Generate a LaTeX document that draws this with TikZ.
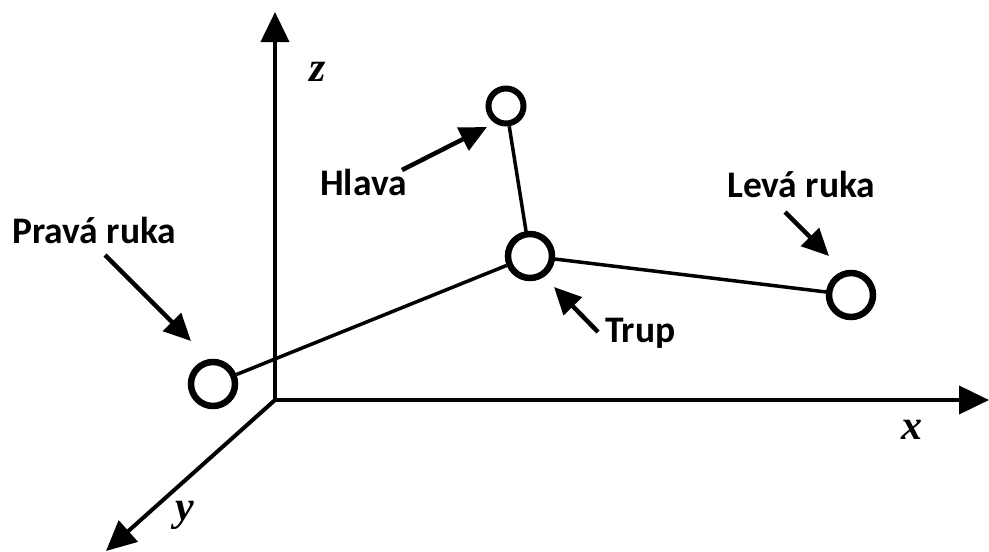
\documentclass[tikz,border=0pt]{standalone}
\usepackage{fontspec}
\setmainfont{Liberation Serif}
\newfontfamily\labelfont{Carlito}
\usetikzlibrary{arrows.meta}
\tikzset{
  axis/.style={line width=4pt, -{Triangle[length=30pt,width=28pt]}},
  pointer/.style={line width=4.5pt, -{Triangle[length=27pt,width=25pt]}},
  joint/.style={circle, draw, line width=6.5pt, inner sep=0pt, minimum size=44pt, fill=white},
  link/.style={line width=3.5pt},
  partname/.style={font=\labelfont\bfseries\fontsize{37.5}{40}\selectfont, inner sep=0pt, anchor=base west},
  axisname/.style={font=\bfseries\itshape\fontsize{42}{44}\selectfont, inner sep=0pt}
}
\begin{document}
\begin{tikzpicture}[x=1pt,y=-1pt]
\useasboundingbox (0,0) rectangle (989,552);

% axes
\coordinate (O) at (275,400);
\coordinate (zend) at (275,12);
\coordinate (xend) at (989,400);
\coordinate (yend) at (106,551);
\draw[axis] (O) -- (zend);
\draw[axis] (273,400) -- (xend);
\draw[axis] (O) -- (yend);
\node[axisname] (zl) at (318,72) {z};
\node[axisname] (xl) at (912,430) {x};
\node[axisname] (yl) at (185,515) {y};

% body joints
\node[joint] (rh) at (213,384) {};
\node[joint] (trunk) at (530,256) {};
\node[joint, minimum size=35pt, line width=6pt] (head) at (506,106) {};
\node[joint] (lh) at (851,295) {};

\draw[link] (rh) -- (trunk);
\draw[link] (trunk) -- (head);
\draw[link] (trunk) -- (lh);

% labels
\node[partname] (prl) at (12,243) {Pravá ruka};
\node[partname] (hl) at (320,195) {Hlava};
\node[partname] (ll) at (727,197) {Levá ruka};
\node[partname] (tl) at (605,342) {Trup};

% pointer arrows
\coordinate (pr1) at (105,255); \coordinate (pr2) at (191,341);
\coordinate (h1) at (402,170);  \coordinate (h2) at (487,127);
\coordinate (l1) at (785,212);  \coordinate (l2) at (829,256);
\coordinate (t1) at (598,332);  \coordinate (t2) at (554,287);
\draw[pointer] (pr1) -- (pr2);
\draw[pointer] (h1) -- (h2);
\draw[pointer] (l1) -- (l2);
\draw[pointer] (t1) -- (t2);
\end{tikzpicture}
\end{document}
